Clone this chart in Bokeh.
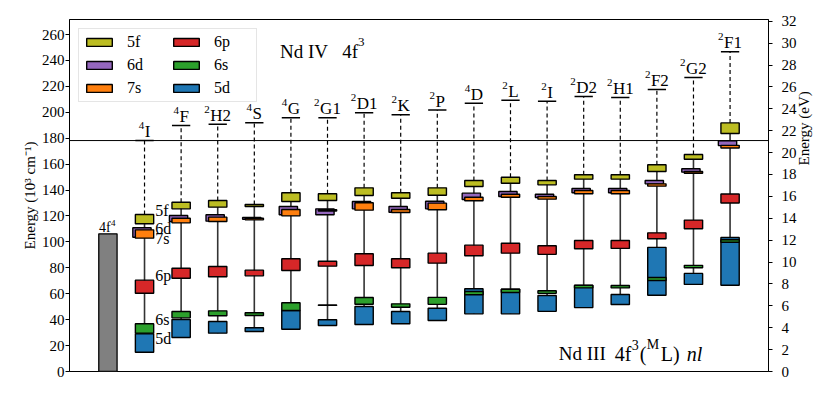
import numpy as np
from bokeh.plotting import figure
from bokeh.models import Range1d, LinearAxis, Span, Legend, LegendItem, FixedTicker
from bokeh.core.properties import value
from bokeh.embed import file_html
from bokeh.resources import INLINE

# ---------------- data (10^3 cm^-1) ----------------
term_mult = ["4", "4", "2", "4", "4", "2", "2", "2", "2", "4", "2", "2", "2", "2", "2", "2", "2"]
term_name = ["I", "F", "H2", "S", "G", "G1", "D1", "K", "P", "D", "L", "I", "D2", "H1", "F2", "G2", "F1"]
nd4_term_energy = [178.2, 189.8, 190.8, 191.9, 195.7, 195.7, 199.6, 198.1, 201.7,
                   207.0, 209.3, 208.6, 212.2, 211.4, 217.6, 226.9, 246.7]
ionization_limit = 178.2
ground_top = 106.2

configs = ["5f", "6d", "7s", "6p", "6s", "5d"]
lo_5f = [114.0, 125.5, 126.8, 127.3, 131.2, 131.9, 135.8, 133.7, 136.0, 142.7, 145.3, 144.0, 148.4, 148.4, 154.3, 163.8, 183.6]
hi_5f = [121.1, 130.6, 131.9, 128.9, 137.9, 137.1, 141.7, 137.9, 141.7, 147.4, 149.9, 147.4, 151.8, 151.8, 159.5, 167.4, 191.8]
lo_6d = [103.6, 115.7, 116.0, 117.4, 120.9, 120.9, 125.5, 122.9, 125.5, 132.7, 135.0, 134.3, 137.9, 137.9, 144.8, 153.8, 174.3]
hi_6d = [110.9, 120.4, 120.9, 118.8, 127.3, 125.5, 131.2, 127.3, 131.4, 137.6, 138.9, 136.8, 141.2, 141.2, 147.4, 156.4, 178.0]
lo_7s = [102.9, 114.7, 115.7, 117.0, 120.1, 123.8, 124.5, 122.7, 124.8, 131.7, 134.5, 133.0, 137.1, 137.1, 143.0, 153.0, 172.4]
hi_7s = [109.3, 118.3, 119.1, 118.2, 125.0, 124.8, 130.2, 125.0, 129.9, 134.5, 136.8, 135.0, 139.7, 139.7, 144.8, 154.3, 174.5]
lo_6p = [60.4, 72.0, 73.1, 73.8, 77.9, 81.3, 81.8, 80.0, 83.6, 89.3, 91.3, 90.4, 94.7, 95.0, 102.4, 110.1, 130.0]
hi_6p = [70.5, 79.7, 81.0, 78.2, 87.0, 85.1, 90.8, 87.0, 91.3, 97.5, 99.0, 97.0, 101.1, 101.1, 107.0, 116.8, 136.9]
lo_6s = [29.6, 41.4, 43.0, 43.2, 47.1, 51.0, 51.9, 49.6, 51.8, 59.2, 61.0, 60.3, 64.5, 64.5, 70.2, 80.0, 99.7]
hi_6s = [36.8, 46.3, 46.8, 45.3, 53.0, 51.3, 57.1, 52.2, 57.2, 61.7, 63.5, 62.3, 66.6, 66.4, 72.5, 81.9, 101.6]
lo_5d = [14.9, 26.2, 29.6, 30.9, 32.6, 35.5, 36.3, 36.8, 39.4, 44.5, 44.5, 46.4, 49.3, 51.7, 58.8, 67.2, 66.6]
hi_5d = [29.1, 40.1, 38.6, 33.7, 47.1, 39.9, 50.2, 46.3, 48.8, 63.8, 63.5, 58.6, 66.4, 59.4, 95.8, 75.7, 103.4]

y_ticks_cm = list(range(0, 261, 20))
y_ticks_ev = list(range(0, 33, 2))

# ---------------- styling ----------------
FONT = "Liberation Serif"
INK = "black"
colors = {"5f": "#bcbd22", "6d": "#9467bd", "7s": "#ff7f0e",
          "6p": "#d62728", "6s": "#2ca02c", "5d": "#1f77b4"}
lows = {"5f": lo_5f, "6d": lo_6d, "7s": lo_7s, "6p": lo_6p, "6s": lo_6s, "5d": lo_5d}
highs = {"5f": hi_5f, "6d": hi_6d, "7s": hi_7s, "6p": hi_6p, "6s": hi_6s, "5d": hi_5d}
xshift = {"5f": 0.0, "6d": -0.07, "7s": 0.0, "6p": 0.0, "6s": 0.0, "5d": 0.0}
half_w = 0.25

# approximate Times-like advance widths (em) for centring split labels
CW = {"H": 0.722, "F": 0.556, "I": 0.333, "S": 0.556, "G": 0.722, "D": 0.722,
      "K": 0.722, "P": 0.556, "L": 0.611, "1": 0.5, "2": 0.5, "4": 0.5}

def width(s, size):
    return sum(CW.get(ch, 0.5) for ch in s) * size

x = np.arange(1, len(term_name) + 1, dtype=float)

p = figure(width=822, height=386, output_backend="svg", toolbar_location=None,
           x_range=Range1d(-1.05, 18.05), y_range=Range1d(0, 271.6),
           min_border_left=69, min_border_right=46, min_border_top=19, min_border_bottom=15)
p.xaxis.visible = False
p.grid.visible = False
p.outline_line_color = "black"
p.outline_line_width = 1
p.background_fill_color = "white"

def style_axis(a, standoff):
    a.axis_label_text_font = FONT
    a.axis_label_text_font_style = "normal"
    a.axis_label_text_font_size = "15px"
    a.axis_label_text_color = INK
    a.major_label_text_font = FONT
    a.major_label_text_font_size = "15px"
    a.major_label_text_color = INK
    a.major_label_standoff = standoff
    a.major_tick_out = 4
    a.major_tick_in = 0
    a.minor_tick_out = 0
    a.minor_tick_in = 0
    a.axis_line_color = INK
    a.major_tick_line_color = INK

# left axis
ax = p.yaxis[0]
ax.ticker = FixedTicker(ticks=y_ticks_cm)
ax.axis_label = "Energy (10³ cm⁻¹)"
ax.axis_label_standoff = 1
style_axis(ax, 1)

# right axis (eV); leading em-spaces move the label up the axis as in the original
p.extra_y_ranges = {"ev": Range1d(0, 32.16)}
rax = LinearAxis(y_range_name="ev", ticker=FixedTicker(ticks=y_ticks_ev))
rax.axis_label = "\u2003" * 2 + "Energy (eV)"
rax.axis_label_standoff = 4
if "axis_label_orientation" in rax.properties():
    rax.axis_label_orientation = float(np.pi / 2)
style_axis(rax, 9)
p.add_layout(rax, "right")

# ionization limit
p.add_layout(Span(location=ionization_limit, dimension="width", line_color="black", line_width=1))

# ground 4f4 bar
p.quad(left=[0 - half_w], right=[0 + half_w], bottom=[0], top=[ground_top],
       fill_color="#808080", line_color="black", line_width=1.3)
p.text(x=[0], y=[ground_top], text=["4f"], text_align="left", x_offset=-9,
       text_baseline="alphabetic", y_offset=-6, text_font=value(FONT), text_font_size="14px",
       text_color=INK)
p.text(x=[0], y=[ground_top], text=["4"], text_align="left", x_offset=3,
       text_baseline="alphabetic", y_offset=-11, text_font=value(FONT), text_font_size="9px",
       text_color=INK)

# vertical lines
all_lo = np.min(np.array([lows[c] for c in configs]), axis=0)
all_hi = np.max(np.array([highs[c] for c in configs]), axis=0)
p.segment(x0=x, y0=all_hi, x1=x, y1=nd4_term_energy, line_color="black",
          line_width=1.2, line_dash="4 3")
p.segment(x0=x, y0=all_lo, x1=x, y1=all_hi, line_color="#333333", line_width=1.6)
p.segment(x0=x - half_w, y0=nd4_term_energy, x1=x + half_w, y1=nd4_term_energy,
          line_color="black", line_width=1.5)

# term labels: superscript multiplicity + term name, centred on each column
MAIN, SUP = 17, 11
sup_w = [width(m, SUP) for m in term_mult]
main_w = [width(n, MAIN) for n in term_name]
tot = [a + b + 0.5 for a, b in zip(sup_w, main_w)]
p.text(x=x, y=nd4_term_energy, text=term_mult, x_offset=[-t / 2 for t in tot],
       text_align="left", text_baseline="alphabetic", y_offset=-15,
       text_font=value(FONT), text_font_size=f"{SUP}px", text_color=INK)
p.text(x=x, y=nd4_term_energy, text=term_name,
       x_offset=[-t / 2 + s + 0.5 for t, s in zip(tot, sup_w)],
       text_align="left", text_baseline="alphabetic", y_offset=-9,
       text_font=value(FONT), text_font_size=f"{MAIN}px", text_color=INK)

# boxes
renderers = {}
for c in ["5d", "6s", "6p", "6d", "7s", "5f"]:
    xs = x + xshift[c]
    renderers[c] = p.quad(left=xs - half_w, right=xs + half_w, bottom=lows[c], top=highs[c],
                          fill_color=colors[c], line_color="black", line_width=1.4)

# configuration labels next to first column
label_y = {"5f": 124.5, "6d": 110.0, "7s": 102.4, "6p": 73.7, "6s": 40.1, "5d": 25.7}
p.text(x=[1.29] * 6, y=[label_y[c] for c in configs], text=configs, text_align="left",
       text_baseline="middle", text_font=value(FONT), text_font_size="16px", text_color=INK)

# annotations
bx, by = 4.70, 247.1
p.text(x=[bx], y=[by], text=["Nd IV\u00a0\u00a0\u00a04f"], text_align="left",
       text_baseline="alphabetic", text_font=value(FONT), text_font_size="19px", text_color=INK)
p.text(x=[bx], y=[by], text=["3"], x_offset=78, y_offset=-9, text_align="left",
       text_baseline="alphabetic", text_font=value(FONT), text_font_size="13px", text_color=INK)

ax0, ay0 = 12.32, 13.6
pieces = [("Nd III", 0, 0, "19px", "normal"), ("4f", 56, 0, "20px", "normal"),
          ("3", 73, -9, "14px", "normal"), ("(", 81, 0, "20px", "normal"),
          ("M", 88, -9, "14px", "normal"), ("L)", 102, 0, "20px", "normal"),
          ("nl", 128, 0, "20px", "italic")]
for t, dx, dy, fs, st in pieces:
    p.text(x=[ax0], y=[ay0], text=[t], x_offset=dx, y_offset=dy, text_align="left",
           text_baseline="alphabetic", text_font=value(FONT), text_font_size=fs,
           text_font_style=st, text_color=INK)

legend = Legend(items=[LegendItem(label=c, renderers=[renderers[c]]) for c in configs],
                location="top_left", ncols=2, margin=9, padding=4, spacing=5,
                glyph_width=32, glyph_height=10, label_height=18, label_width=38,
                label_standoff=12, label_text_font=FONT, label_text_font_size="16px",
                label_text_color=INK,
                border_line_color="#cccccc", background_fill_alpha=0.85)
p.add_layout(legend)

open("out.html", "w").write(file_html(p, INLINE))
